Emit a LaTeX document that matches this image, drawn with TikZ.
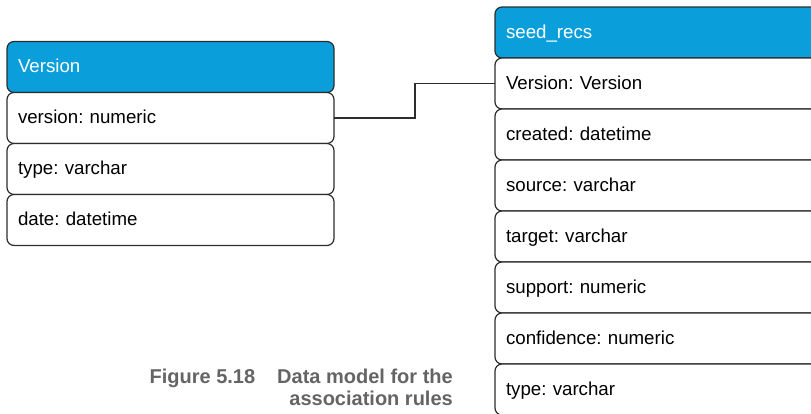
\documentclass[tikz,border=0pt]{standalone}
\usepackage{fontspec}
\setmainfont{Liberation Sans}
\usepackage{xcolor}
\usepackage{tikz}
\usetikzlibrary{positioning}

\definecolor{hdrblue}{RGB}{10,159,219}
\definecolor{edgegray}{RGB}{45,45,45}
\definecolor{capgray}{RGB}{100,100,100}
\frenchspacing

\begin{document}
\begin{tikzpicture}[
  x=1pt, y=-1pt,
  field/.style={draw=edgegray, line width=1.2pt, rounded corners=7pt, fill=white,
    minimum height=51pt, outer sep=0pt, inner xsep=11pt, align=left,
    font=\fontsize{18.7}{22}\selectfont, text height=1.2em, text depth=0.06em},
  lfield/.style={field, minimum width=327pt, text width=305pt},
  rfield/.style={field, minimum width=330pt, text width=308pt},
  header/.style={fill=hdrblue, text=white},
  link/.style={draw=edgegray, line width=1.2pt},
  caption/.style={font=\fontsize{20}{22}\selectfont\bfseries, text=capgray, inner sep=0pt, anchor=base east}
]
\clip (0,0) rectangle (811,413);

% Version table
\node[lfield, header] (vhead) at (170.5,67) {Version};
\node[lfield, below=0pt of vhead] (vnum) {version: numeric};
\node[lfield, below=0pt of vnum] (vtype) {type: varchar};
\node[lfield, below=0pt of vtype] (vdate) {date: datetime};

% seed_recs table
\node[rfield, header] (shead) at (660,32.5) {seed\_recs};
\node[rfield, below=0pt of shead] (sver) {Version: Version};
\node[rfield, below=0pt of sver] (screated) {created: datetime};
\node[rfield, below=0pt of screated] (ssource) {source: varchar};
\node[rfield, below=0pt of ssource] (starget) {target: varchar};
\node[rfield, below=0pt of starget] (ssupport) {support: numeric};
\node[rfield, below=0pt of ssupport] (sconf) {confidence: numeric};
\node[rfield, below=0pt of sconf] (stype) {type: varchar};

\draw[link] (vnum.east) -- ++(81,0) |- (sver.west);

\node[caption] (cap1) at (453,383) {Figure 5.18\hspace{22pt}Data model for the};
\node[caption] (cap2) at (453,405) {association rules};
\end{tikzpicture}
\end{document}
